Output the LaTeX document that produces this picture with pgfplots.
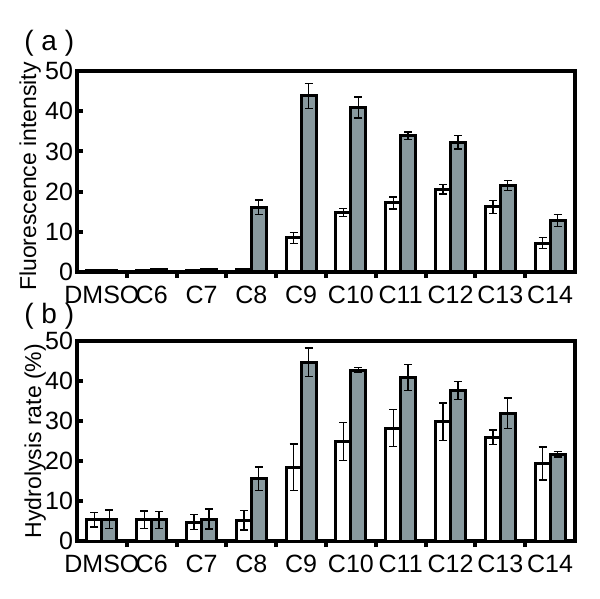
\documentclass[border=0pt]{standalone}
\usepackage{fontspec}
\setmainfont{Liberation Sans}
\usepackage{pgfplots}
\pgfplotsset{compat=1.18}
\usepackage{pgfplotstable}
\definecolor{bargray}{RGB}{136,153,158}

\pgfplotstableread{
idx white werr gray gerr
0 0.3 0 0.3 0
1 0.4 0 0.5 0
2 0.3 0 0.5 0
3 0.5 0 16.1 1.8
4 8.5 1.4 43.8 3.1
5 14.8 1.0 40.9 2.6
6 17.2 1.5 33.9 0.9
7 20.6 1.2 32.3 1.7
8 16.2 1.6 21.5 1.3
9 7.2 1.4 12.8 1.45
}\fluo

\pgfplotstableread{
idx white werr gray gerr
0 5.3 1.8 5.5 2.3
1 5.3 2.2 5.3 2.1
2 4.75 1.9 5.5 2.5
3 5.2 2.4 15.6 2.9
4 18.5 5.8 44.7 3.6
5 24.9 4.8 42.75 0.6
6 28.25 4.6 40.9 3.25
7 29.8 4.7 37.7 2.25
8 26.0 1.8 32.0 3.8
9 19.4 4.1 21.7 0.7
}\hydro

\pgfplotsset{
  myaxis/.style={
    scale only axis,
    width=249pt,
    xmin=-0.5, xmax=9.5, ymin=0, ymax=50,
    xtick={0,...,9},
    xticklabels={DMSO,C6,C7,C8,C9,C10,C11,C12,C13,C14},
    minor xtick={0.5,1.5,...,8.5},
    ytick={0,10,...,50},
    tick pos=left,
    tick align=inside,
    major x tick style={draw=none},
    minor x tick style={line width=2pt,black},
    y tick style={line width=2pt,black},
    major tick length=3pt,
    minor tick length=3pt,
    axis line style={line width=2pt},
    tick label style={font=\fontsize{12.5}{14}\selectfont},
    yticklabel style={xshift=1.5pt},
    xticklabel style={yshift=-0.5pt},
    label style={font=\fontsize{11.5}{13}\selectfont},
    /pgf/number format/assume math mode=true,
    ybar,
    bar width=0.3,
  },
  wbar/.style={fill=white, draw=black, line width=1.5pt, bar shift=-0.15,
    error bars/.cd, y dir=both, y explicit,
    error bar style={line width=0.7pt,black},
    error mark options={rotate=90,mark size=2pt,line width=0.7pt,black}},
  gbar/.style={fill=bargray, draw=black, line width=1.5pt, bar shift=0.15,
    error bars/.cd, y dir=both, y explicit,
    error bar style={line width=0.7pt,black},
    error mark options={rotate=90,mark size=2pt,line width=0.7pt,black}},
}

\begin{document}
\begin{tikzpicture}
\path[use as bounding box] (-38.5pt,-163.5pt) rectangle (261.5pt,136pt);

\begin{axis}[myaxis, height=100.5pt, at={(0pt,0pt)}, anchor=south west,
  ylabel={Fluorescence intensity},
  ylabel style={at={(axis description cs:-0.082,0.475)}, anchor=base}]
\addplot[wbar] table[x=idx, y=white, y error=werr] {\fluo};
\addplot[gbar] table[x=idx, y=gray, y error=gerr] {\fluo};
\end{axis}

\begin{axis}[myaxis, height=100pt, at={(0pt,-134.5pt)}, anchor=south west,
  ylabel={Hydrolysis rate (\%)},
  ylabel style={at={(axis description cs:-0.072,0.5)}, anchor=base}]
\addplot[wbar] table[x=idx, y=white, y error=werr] {\hydro};
\addplot[gbar] table[x=idx, y=gray, y error=gerr] {\hydro};
\end{axis}

\node[anchor=base west, inner sep=0pt, font=\fontsize{14}{16}\selectfont] at (-26.5pt,110.5pt) {( a )};
\node[anchor=base west, inner sep=0pt, font=\fontsize{14}{16}\selectfont] at (-26.5pt,-26pt) {( b )};
\end{tikzpicture}
\end{document}
